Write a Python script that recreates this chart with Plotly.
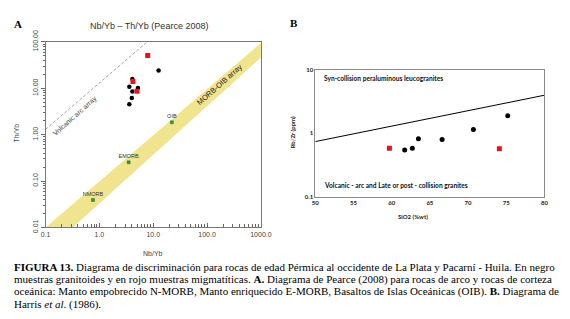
import plotly.graph_objects as go

W, H = 570, 319
def fx(p): return p / W
def fy(p): return 1 - p / H

# ---------------- Panel A data (Pearce 2008) ----------------
nbyb_granitoid = [4.1, 3.6, 4.1, 5.2, 4.0, 3.6, 12.6]
thyb_granitoid = [15.9, 10.8, 8.5, 10.1, 6.15, 4.55, 24.2]
nbyb_migmatite = [7.9, 4.2, 5.0]
thyb_migmatite = [51.0, 14.0, 8.6]
ref_names = ["NMORB", "EMORB", "OIB"]
ref_nbyb = [0.76, 3.5, 22.2]
ref_thyb = [0.039, 0.253, 1.85]
band_nbyb = [0.1, 1000, 1000, 0.32, 0.1]
band_thyb = [0.01, 95, 46, 0.01, 0.01]
arc_nbyb = [0.1, 7.7]
arc_thyb = [1.3, 100]
a_xticks = [0.1, 1, 10, 100, 1000]
a_xticklabels = ["0.1", "1.0", "10.0", "100.0", "1000.0"]
a_yticks = [0.01, 0.1, 1, 10, 100]
a_yticklabels = ["0.01", "0.10", "1.00", "10.00", "100.00"]

# ---------------- Panel B data (Harris et al. 1986) ----------------
sio2_granitoid = [61.7, 62.7, 63.5, 66.6, 70.7, 75.2]
rbzr_granitoid = [0.545, 0.58, 0.82, 0.80, 1.15, 1.88]
sio2_migmatite = [59.7, 74.1]
rbzr_migmatite = [0.58, 0.57]
harris_sio2 = [50, 80]
harris_rbzr = [0.74, 3.95]
b_xticks = [50, 55, 60, 65, 70, 75, 80]
b_yticks = [0.1, 1, 10]
b_yticklabels = ["0.1", "1", "10"]

minor_a_x = [m * 10 ** k for k in range(-1, 3) for m in range(2, 10)]
minor_a_y = [m * 10 ** k for k in range(-2, 2) for m in range(2, 10)]

fig = go.Figure()

# Panel A traces
fig.add_trace(go.Scatter(x=band_nbyb, y=band_thyb, mode="lines", fill="toself",
                         fillcolor="#F0E48E", line=dict(width=0, color="#F0E48E"),
                         hoverinfo="skip", xaxis="x", yaxis="y"))
fig.add_trace(go.Scatter(x=arc_nbyb, y=arc_thyb, mode="lines",
                         line=dict(color="#8a8a8a", width=0.8, dash="3px,2px"),
                         xaxis="x", yaxis="y"))
fig.add_trace(go.Scatter(x=ref_nbyb, y=ref_thyb, mode="markers+text", text=ref_names,
                         textposition="top center",
                         textfont=dict(family="Liberation Sans", size=5.5, color="#333"),
                         marker=dict(symbol="square", size=3, color="#2f9a3a",
                                     line=dict(width=0.4, color="#1d5e22")),
                         xaxis="x", yaxis="y"))
fig.add_trace(go.Scatter(x=nbyb_granitoid, y=thyb_granitoid, mode="markers",
                         marker=dict(symbol="circle", size=4.5, color="black"),
                         xaxis="x", yaxis="y"))
fig.add_trace(go.Scatter(x=nbyb_migmatite, y=thyb_migmatite, mode="markers",
                         marker=dict(symbol="square", size=5, color="#e8141c"),
                         xaxis="x", yaxis="y"))

# Panel B traces
fig.add_trace(go.Scatter(x=harris_sio2, y=harris_rbzr, mode="lines",
                         line=dict(color="black", width=1), xaxis="x2", yaxis="y2"))
fig.add_trace(go.Scatter(x=sio2_granitoid, y=rbzr_granitoid, mode="markers",
                         marker=dict(symbol="circle", size=5, color="black"),
                         xaxis="x2", yaxis="y2"))
fig.add_trace(go.Scatter(x=sio2_migmatite, y=rbzr_migmatite, mode="markers",
                         marker=dict(symbol="square", size=5, color="#e8141c"),
                         xaxis="x2", yaxis="y2"))

sans = "Liberation Sans"
bfont = "Lato"
serif = "Liberation Serif, Times New Roman, serif"
fig.update_layout(
    width=W, height=H, margin=dict(l=0, r=0, t=0, b=0),
    paper_bgcolor="white", plot_bgcolor="white", showlegend=False,
    xaxis=dict(type="log", range=[-1, 3], domain=[fx(41.7), fx(263.3)], anchor="y",
               tickmode="array", tickvals=a_xticks, ticktext=a_xticklabels,
               ticks="inside", ticklen=4, tickcolor="#666",
               minor=dict(tickmode="array", tickvals=minor_a_x, ticks="inside",
                          ticklen=3, tickcolor="#666"),
               showgrid=False, zeroline=False, showline=True, linecolor="#777",
               linewidth=1, mirror=True,
               tickfont=dict(family=sans, size=7, color="#444")),
    yaxis=dict(type="log", range=[-2, 2], domain=[fy(228.3), fy(31.7)], anchor="x",
               tickmode="array", tickvals=a_yticks, ticktext=a_yticklabels,
               ticks="outside", ticklen=4, tickcolor="#666", tickangle=-90,
               minor=dict(tickmode="array", tickvals=minor_a_y, ticks="outside",
                          ticklen=2, tickcolor="#666"),
               showgrid=False, zeroline=False, showline=True, linecolor="#777",
               linewidth=1, mirror=True,
               tickfont=dict(family=sans, size=7, color="#444")),
    xaxis2=dict(range=[50, 80], domain=[fx(319.3), fx(555)], anchor="y2",
                tickmode="array", tickvals=b_xticks, ticks="",
                showgrid=False, zeroline=False, showline=True, linecolor="#8a8a8a",
                linewidth=1, mirror=True,
                tickfont=dict(family=bfont, size=6, color="#222", weight="bold")),
    yaxis2=dict(type="log", range=[-1, 1], domain=[fy(196), fy(61)], anchor="x2",
                tickmode="array", tickvals=b_yticks, ticktext=b_yticklabels, ticks="",
                showgrid=False, zeroline=False, showline=True, linecolor="#8a8a8a",
                linewidth=1, mirror=True,
                tickfont=dict(family=bfont, size=6, color="#222", weight="bold")),
)

ann = []
def add(text, x, y, size, family=sans, color="#333", xanchor="center",
        yanchor="middle", angle=0, **kw):
    ann.append(dict(text=text, x=fx(x), y=fy(y), xref="paper", yref="paper",
                    showarrow=False, xanchor=xanchor, yanchor=yanchor,
                    textangle=angle, font=dict(family=family, size=size, color=color),
                    **kw))

# Panel A labels
add("<b>A</b>", 13, 13, 11, family=serif, color="black")
add("Nb/Yb \u2013 Th/Yb (Pearce 2008)", 148, 15, 9, color="#333")
add("Th/Yb", 12, 128, 7, angle=-90, color="#444")
add("Nb/Yb", 152, 256, 7, color="#444")
add("Volcanic arc array", 72, 110, 7, angle=-41.5, color="#444")
add("MORB-OIB array", 221, 77, 7.5, angle=-41.5, color="#222")

# Panel B labels
add("<b>B</b>", 297, 12, 11, family=serif, color="black")
add("<b>Syn-collision peraluminous leucogranites</b>", 326, 70, 6.6, family=bfont,
    color="#111", xanchor="left")
add("<b>Volcanic - arc and Late or post - collision granites</b>", 326, 183, 6.6,
    family=bfont, color="#111", xanchor="left")
add("<b>Rb/Zr (ppm)</b>", 296, 128, 6, family=bfont, angle=-90, color="#222")
add("<b>SiO2 (%wt)</b>", 420, 217, 6, family=bfont, color="#222")

# Caption
caption = [
    "<b>FIGURA 13.</b> Diagrama de discriminación para rocas de edad Pérmica al occidente de La Plata y Pacarní - Huila. En negro",
    "muestras granitoides y en rojo muestras migmatíticas. <b>A.</b> Diagrama de Pearce (2008) para rocas de arco y rocas de corteza",
    "oceánica: Manto empobrecido N-MORB, Manto enriquecido E-MORB, Basaltos de Islas Oceánicas (OIB). <b>B.</b> Diagrama de",
    "Harris <i>et al</i>. (1986).",
]
for i, line in enumerate(caption):
    add(line, 7, 270 + 13.3 * i, 11, family=serif, color="black",
        xanchor="left")

fig.update_layout(annotations=ann)
fig.write_html("out.html", config={"displayModeBar": False},
               post_script="document.body.style.margin='0';document.body.style.overflow='hidden';")
